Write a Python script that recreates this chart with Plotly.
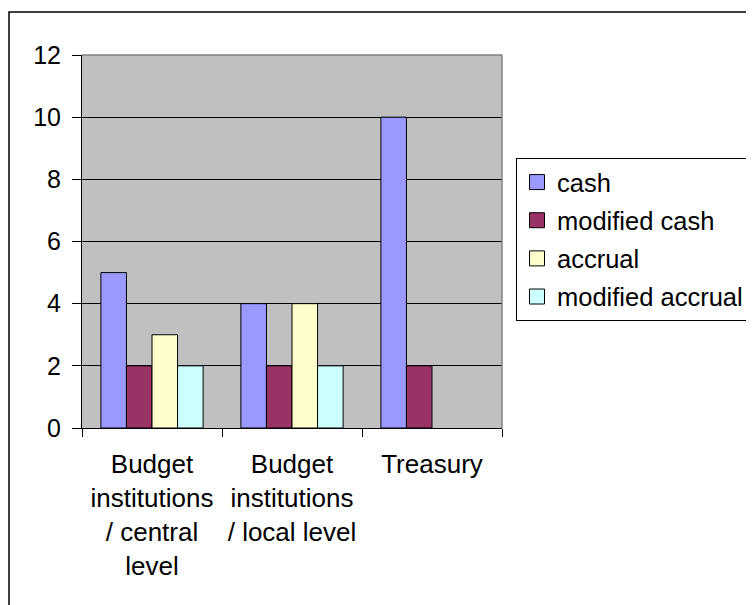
import plotly.graph_objects as go

categories = ["Budget<br>institutions<br>/ central<br>level",
              "Budget<br>institutions<br>/ local level",
              "Treasury"]
series_names = ["cash", "modified cash", "accrual", "modified accrual"]
cash = [5, 4, 10]
modified_cash = [2, 2, 2]
accrual = [3, 4, None]
modified_accrual = [2, 2, None]
colors = ["#9999FF", "#993366", "#FFFFCC", "#CCFFFF"]

OFF = 8  # page body margin
W, H = 754 - OFF, 605 - OFF
L, R, T, B = 82 - OFF, 502 - OFF, 55 - OFF, 428 - OFF

fig = go.Figure()
for i, (name, vals) in enumerate(zip(series_names, [cash, modified_cash, accrual, modified_accrual])):
    fig.add_trace(go.Bar(
        x=categories, y=vals, name=name, legendgroup=name, showlegend=False,
        marker=dict(color=colors[i], line=dict(color="black", width=1)),
    ))
# legend entries with larger square swatches
for i, name in enumerate(series_names):
    fig.add_trace(go.Scatter(
        x=[None], y=[None], mode="markers", name=name, legendgroup=name,
        marker=dict(symbol="square", size=15, color=colors[i],
                    line=dict(color="black", width=1)),
        hoverinfo="skip",
    ))

def px_to_paper_x(p):
    return (p - OFF - L) / (R - L)

def px_to_paper_y(p):
    return (B - (p - OFF)) / (B - T)

fig.update_layout(
    width=W, height=H,
    margin=dict(l=L, r=W - R, t=T, b=H - B, autoexpand=False),
    paper_bgcolor="white",
    plot_bgcolor="#C0C0C0",
    font=dict(family="Liberation Sans, Arial", size=25, color="black"),
    barmode="group",
    bargap=0.27,
    bargroupgap=0,
    showlegend=True,
    legend=dict(
        x=px_to_paper_x(516), y=px_to_paper_y(158),
        xanchor="left", yanchor="top",
        bordercolor="black", borderwidth=1, bgcolor="white",
        font=dict(size=25.5),
        traceorder="grouped", tracegroupgap=2,
        itemwidth=30, itemsizing="trace",
    ),
    xaxis=dict(
        type="category", tickson="boundaries", ticks="outside", ticklen=8,
        tickcolor="black", tickwidth=1, showline=True, linecolor="black",
        linewidth=1, showgrid=False, tickfont=dict(size=26),
        ticklabelstandoff=13,
    ),
    yaxis=dict(
        range=[0, 12], dtick=2, tick0=0, ticks="outside", ticklen=9,
        tickcolor="black", tickwidth=1, showline=True, linecolor="black",
        linewidth=1, showgrid=True, gridcolor="black", gridwidth=1,
        zeroline=False, tickfont=dict(size=25), ticklabelstandoff=6,
    ),
    shapes=[
        dict(type="line", xref="paper", yref="paper", x0=0, x1=1, y0=1, y1=1,
             line=dict(color="#808080", width=1.5), layer="above"),
        dict(type="line", xref="paper", yref="paper", x0=1, x1=1, y0=0, y1=1,
             line=dict(color="#808080", width=1.5), layer="above"),
        dict(type="rect", xref="paper", yref="paper",
             x0=px_to_paper_x(9), x1=px_to_paper_x(770),
             y0=px_to_paper_y(620), y1=px_to_paper_y(12),
             line=dict(color="black", width=1.5), fillcolor="rgba(0,0,0,0)",
             layer="above"),
    ],
)

fig.write_html("out.html")
